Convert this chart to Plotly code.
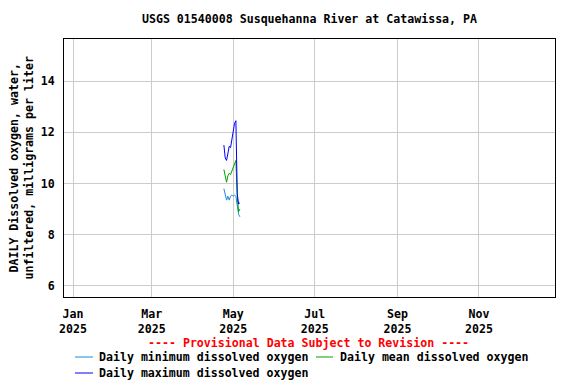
import plotly.graph_objects as go

dates = ["2025-04-24", "2025-04-25", "2025-04-26", "2025-04-27", "2025-04-28",
         "2025-04-29", "2025-04-30", "2025-05-01", "2025-05-02", "2025-05-03",
         "2025-05-04", "2025-05-05", "2025-05-06"]
do_min = [9.8, 9.5, 9.35, 9.5, 9.35, 9.5, 9.55, 9.5, 9.55, 9.5, 9.1, 8.8, 8.7]
do_mean = [10.55, 10.3, 10.05, 10.3, 10.4, 10.35, 10.5, 10.65, 10.8, 10.9, 9.5, 8.9, 9.0]
do_max = [11.5, 11.0, 10.9, 11.2, 11.45, 11.4, 11.75, 12.05, 12.35, 12.45, 9.6, 9.2, 9.25]

title_text = "USGS 01540008 Susquehanna River at Catawissa, PA"
y_title = "DAILY Dissolved oxygen, water,<br>unfiltered, milligrams per liter"
notice = "---- Provisional Data Subject to Revision ----"
names = ["Daily minimum dissolved oxygen", "Daily mean dissolved oxygen",
         "Daily maximum dissolved oxygen"]
colors = ["#1a8cd8", "#00a000", "#0000ff"]

FONT = "DejaVu Sans Mono"
FS = 11.6

fig = go.Figure()
for vals, nm, c in zip([do_min, do_mean, do_max], names, colors):
    fig.add_trace(go.Scatter(x=dates, y=vals, mode="lines", name=nm,
                             line=dict(color=c, width=1), showlegend=False))

# page body has an 8px margin; design in screen pixels and shift
OFF = 8
W, H = 576 - OFF, 384 - OFF
L, R, T, B = 64 - OFF, 555 - OFF, 39 - OFF, 297 - OFF


def px(x):
    return (x - OFF - L) / (R - L)


def py(y):
    return (B - (y - OFF)) / (B - T)


annotations = [
    dict(text=y_title, x=px(20.5), y=0.5, xref="paper", yref="paper",
         textangle=-90, showarrow=False, xanchor="center", yanchor="middle",
         borderpad=0,
         font=dict(family=FONT, size=FS, color="black", weight="bold")),
    dict(text=notice, x=px(308), y=py(343), xref="paper", yref="paper",
         showarrow=False, xanchor="center", yanchor="middle",
         font=dict(family=FONT, size=FS, color="#ff0000", weight="bold")),
]
shapes = []
legend_pos = [(75, 93, 98, 357), (316, 333, 339, 357), (75, 93, 98, 373)]
for (x0, x1, xt, yy), nm, c in zip(legend_pos, names, colors):
    shapes.append(dict(type="line", xref="paper", yref="paper",
                       x0=px(x0), x1=px(x1), y0=py(yy), y1=py(yy),
                       line=dict(color=c, width=1)))
    annotations.append(dict(text=nm, x=px(xt), y=py(yy), xref="paper", yref="paper",
                            showarrow=False, xanchor="left", yanchor="middle",
                            borderpad=0,
                            font=dict(family=FONT, size=FS, color="black", weight="bold")))

fig.update_layout(
    width=W, height=H,
    margin=dict(l=L, r=W - R, t=T, b=H - B),
    paper_bgcolor="white", plot_bgcolor="white",
    font=dict(family=FONT, size=FS, color="black", weight="bold"),
    title=dict(text=title_text, x=0.5, xref="paper", xanchor="center",
               y=1 - (19 - OFF) / H, yref="container", yanchor="middle",
               font=dict(family=FONT, size=FS, color="black", weight="bold")),
    annotations=annotations,
    shapes=shapes,
    xaxis=dict(type="date", range=["2024-12-25 06:00", "2025-12-28"],
               dtick="M2", tick0="2025-01-01", tickformat="%b<br>%Y",
               showgrid=True, gridcolor="#cccccc", gridwidth=1,
               showline=True, linecolor="black", linewidth=1, mirror=True,
               ticks="outside", ticklen=6, tickcolor="rgba(0,0,0,0)",
               zeroline=False),
    yaxis=dict(range=[5.57, 15.64], dtick=2, tick0=0,
               showgrid=True, gridcolor="#cccccc", gridwidth=1,
               showline=True, linecolor="black", linewidth=1, mirror=True,
               ticks="outside", ticklen=6, tickcolor="rgba(0,0,0,0)",
               zeroline=False),
)

fig.write_html("out.html")
